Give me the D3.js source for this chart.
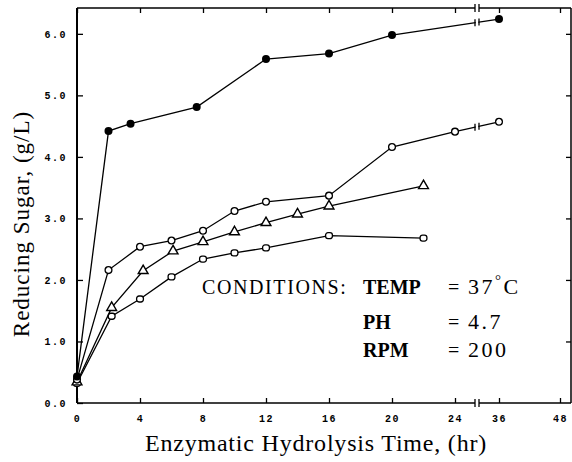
<!DOCTYPE html>
<html>
<head>
<meta charset="utf-8">
<script src="https://cdn.jsdelivr.net/npm/d3@7"></script>
<style>
  body { margin: 0; background: #fff; }
  .tick-label { font-family: "Liberation Mono", monospace; font-weight: bold; font-size: 10px; letter-spacing: 1.5px; }
  .serif { font-family: "Liberation Serif", "Times New Roman", serif; fill: #000; }
</style>
</head>
<body>
<div id="wrapper"></div>
<script>
// data
const hoursFilled = [0, 2, 3.4, 7.6, 12, 16, 20, 36];
const sugarFilled = [0.43, 4.42, 4.54, 4.81, 5.59, 5.68, 5.98, 6.24];

const hoursCircle = [0, 2, 4, 6, 8, 10, 12, 16, 20, 24, 36];
const sugarCircle = [0.38, 2.16, 2.54, 2.64, 2.8, 3.12, 3.27, 3.37, 4.16, 4.41, 4.57];

const hoursTriangle = [0, 2.2, 4.2, 6.1, 8, 10, 12, 14, 16, 22];
const sugarTriangle = [0.34, 1.55, 2.15, 2.47, 2.62, 2.78, 2.93, 3.07, 3.2, 3.53];

const hoursSquare = [0, 2.2, 4, 6, 8, 10, 12, 16, 22];
const sugarSquare = [0.32, 1.41, 1.69, 2.05, 2.34, 2.44, 2.52, 2.72, 2.68];

const xTicks = [0, 4, 8, 12, 16, 20, 24, 36, 48];
const yTicks = [0, 1, 2, 3, 4, 5, 6];
const breakHour = 30;

function drawChart() {
  let dimensions = {
    width: 572,
    height: 462,
    margin: { top: 8, right: 1, bottom: 59, left: 77 }
  };
  dimensions.boundedWidth =
    dimensions.width - dimensions.margin.left - dimensions.margin.right;
  dimensions.boundedHeight =
    dimensions.height - dimensions.margin.top - dimensions.margin.bottom;

  const wrapper = d3.select("#wrapper")
    .append("svg")
    .attr("width", dimensions.width)
    .attr("height", dimensions.height);

  const bounds = wrapper.append("g")
    .attr("transform", `translate(${dimensions.margin.left}, ${dimensions.margin.top})`);

  // scales (broken x axis between 24 and 36)
  const xScale = d3.scaleLinear()
    .domain([0, 24, 36, 48])
    .range([0, 378, 422, 483]);

  const yScale = d3.scaleLinear()
    .domain([0, 6.42])
    .range([dimensions.boundedHeight, 0]);

  const bx = xScale(breakHour);
  const gap = 2;

  // frame
  const frame = bounds.append("g").attr("stroke", "#000").attr("fill", "none");
  frame.append("line")
    .attr("x1", 0).attr("x2", 0)
    .attr("y1", 0).attr("y2", dimensions.boundedHeight)
    .attr("stroke-width", 2);
  frame.append("line")
    .attr("x1", dimensions.boundedWidth).attr("x2", dimensions.boundedWidth)
    .attr("y1", 0).attr("y2", dimensions.boundedHeight)
    .attr("stroke-width", 1.5);
  [0, dimensions.boundedHeight].forEach(y => {
    frame.append("line")
      .attr("x1", 0).attr("x2", bx - gap)
      .attr("y1", y).attr("y2", y)
      .attr("stroke-width", 1.5);
    frame.append("line")
      .attr("x1", bx + gap).attr("x2", dimensions.boundedWidth)
      .attr("y1", y).attr("y2", y)
      .attr("stroke-width", 1.5);
    [bx - gap, bx + gap].forEach(x => {
      frame.append("line")
        .attr("x1", x).attr("x2", x)
        .attr("y1", y - 4).attr("y2", y + 4)
        .attr("stroke-width", 1.3);
    });
  });

  // axes
  const xAxisGenerator = d3.axisBottom(xScale)
    .tickValues(xTicks)
    .tickSize(-5)
    .tickPadding(12)
    .tickFormat(d3.format("d"));
  const xAxis = bounds.append("g")
    .attr("transform", `translate(0, ${dimensions.boundedHeight})`)
    .call(xAxisGenerator);
  xAxis.select(".domain").remove();
  xAxis.selectAll("text").attr("class", "tick-label").attr("fill", "#000");
  xAxis.selectAll("line").attr("stroke-width", 1.3);

  const xTopAxis = bounds.append("g")
    .call(d3.axisTop(xScale).tickValues(xTicks).tickSize(-5).tickFormat(""));
  xTopAxis.select(".domain").remove();
  xTopAxis.selectAll("line").attr("stroke-width", 1.3);

  const yAxisGenerator = d3.axisLeft(yScale)
    .tickValues(yTicks)
    .tickSize(-6)
    .tickPadding(10)
    .tickFormat(d3.format(".1f"));
  const yAxis = bounds.append("g").call(yAxisGenerator);
  yAxis.select(".domain").remove();
  yAxis.selectAll("text").attr("class", "tick-label").attr("fill", "#000");
  yAxis.selectAll("line").attr("stroke-width", 1.3);

  const yRightAxis = bounds.append("g")
    .attr("transform", `translate(${dimensions.boundedWidth}, 0)`)
    .call(d3.axisRight(yScale).tickValues(yTicks.slice(1)).tickSize(-5).tickFormat(""));
  yRightAxis.select(".domain").remove();
  yRightAxis.selectAll("line").attr("stroke-width", 1.3);

  // series (filled one last so it sits on top at t = 0)
  const series = [
    { hours: hoursSquare, sugar: sugarSquare, marker: "square" },
    { hours: hoursTriangle, sugar: sugarTriangle, marker: "triangle" },
    { hours: hoursCircle, sugar: sugarCircle, marker: "circle" },
    { hours: hoursFilled, sugar: sugarFilled, marker: "filled" }
  ];

  const lineGenerator = d3.line()
    .x(d => xScale(d[0]))
    .y(d => yScale(d[1]));

  series.forEach(s => {
    const points = s.hours.map((h, i) => [h, s.sugar[i]]);
    const g = bounds.append("g");

    g.append("path")
      .attr("d", lineGenerator(points))
      .attr("fill", "none")
      .attr("stroke", "#000")
      .attr("stroke-width", 1.3);

    // break mark where the line crosses the axis break
    const after = points.findIndex(p => p[0] > breakHour);
    if (after > 0) {
      const p0 = points[after - 1];
      const p1 = points[after];
      const px0 = xScale(p0[0]), px1 = xScale(p1[0]);
      const py0 = yScale(p0[1]), py1 = yScale(p1[1]);
      const yAt = x => py0 + (py1 - py0) * (x - px0) / (px1 - px0);
      g.append("rect")
        .attr("x", bx - gap + 0.7)
        .attr("y", yAt(bx) - 4)
        .attr("width", 2 * gap - 1.4)
        .attr("height", 8)
        .attr("fill", "#fff");
      [bx - gap, bx + gap].forEach(x => {
        g.append("line")
          .attr("x1", x).attr("x2", x)
          .attr("y1", yAt(x) - 3.5).attr("y2", yAt(x) + 3.5)
          .attr("stroke", "#000")
          .attr("stroke-width", 1.3);
      });
    }

    const markers = g.selectAll(".marker")
      .data(points)
      .join("g")
      .attr("class", "marker")
      .attr("transform", d => `translate(${xScale(d[0])}, ${yScale(d[1])})`);

    if (s.marker === "filled") {
      markers.append("circle").attr("r", 4).attr("fill", "#000");
    } else if (s.marker === "circle") {
      markers.append("circle").attr("r", 3.4)
        .attr("fill", "#fff").attr("stroke", "#000").attr("stroke-width", 1.3);
    } else if (s.marker === "triangle") {
      markers.append("path")
        .attr("d", d3.symbol(d3.symbolTriangle, 42)())
        .attr("fill", "#fff").attr("stroke", "#000").attr("stroke-width", 1.4);
    } else {
      markers.append("rect")
        .attr("x", -3.4).attr("y", -3).attr("width", 6.8).attr("height", 6).attr("rx", 2.4)
        .attr("fill", "#fff").attr("stroke", "#000").attr("stroke-width", 1.3);
    }
  });

  // labels
  wrapper.append("text")
    .attr("class", "serif")
    .attr("x", 316)
    .attr("y", 451)
    .attr("text-anchor", "middle")
    .style("font-size", "24px")
    .style("letter-spacing", "0.8px")
    .text("Enzymatic Hydrolysis Time, (hr)");

  wrapper.append("text")
    .attr("class", "serif")
    .attr("transform", "translate(29, 224) rotate(-90)")
    .attr("text-anchor", "middle")
    .style("font-size", "23px")
    .style("letter-spacing", "1px")
    .text("Reducing Sugar, (g/L)");

  // conditions block
  const conditions = wrapper.append("g").attr("class", "serif");
  conditions.append("text").attr("x", 202).attr("y", 294)
    .style("font-size", "20px").style("letter-spacing", "1.6px")
    .text("CONDITIONS:");
  const rows = [["TEMP", "37"], ["PH", "4.7"], ["RPM", "200"]];
  const rowY = [294, 329, 357];
  rows.forEach((r, i) => {
    conditions.append("text").attr("x", 363).attr("y", rowY[i])
      .style("font-size", "20px").style("font-weight", "bold").text(r[0]);
    conditions.append("text").attr("x", 448).attr("y", rowY[i])
      .style("font-size", "20px").text("=");
    const v = conditions.append("text").attr("x", 468).attr("y", rowY[i])
      .style("font-size", "22px").style("letter-spacing", "2.5px").text(r[1]);
    if (i === 0) {
      v.append("tspan").attr("dy", -9).style("font-size", "15px").text("°");
      v.append("tspan").attr("dy", 9).text("C");
    }
  });
}
drawChart();
</script>
</body>
</html>
